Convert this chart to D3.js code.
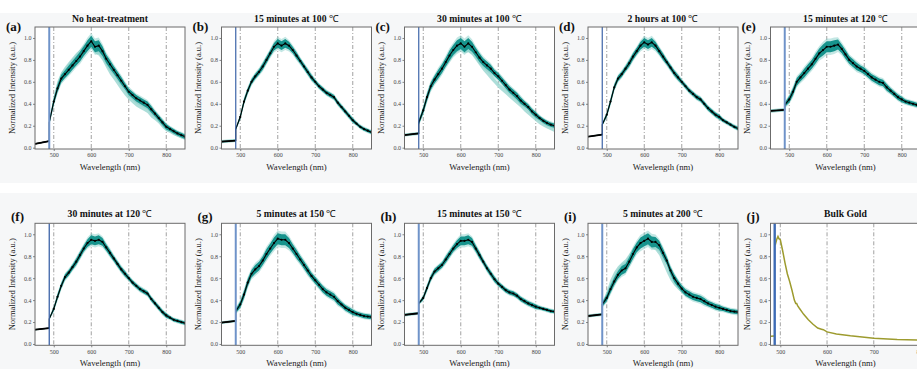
<!DOCTYPE html>
<html><head><meta charset="utf-8">
<script src="https://cdn.jsdelivr.net/npm/d3@7"></script>
<style>
html,body{margin:0;padding:0;background:#fff;}
svg{display:block;}
text{font-family:"Liberation Serif","Times New Roman",serif;}
</style></head><body>
<svg id="chart" width="917" height="369"></svg>
<script>
// ---------- DATA ----------
const wavelengths = [488,500,510,520,530,540,550,560,570,580,590,600,610,620,630,640,650,660,670,680,690,700,710,720,730,740,750,760,770,780,790,800,810,820,830,840,850];
const leftWavelengths = [450,488];
const xTicks = [500,600,700,800];
const yTicks = [0.0,0.2,0.4,0.6,0.8,1.0];
const guideLines = [500,600,700,800];
const laserLine = 488;

const titles = ["No heat-treatment","15 minutes at 100 ℃","30 minutes at 100 ℃","2 hours at 100 ℃","15 minutes at 120 ℃",
                "30 minutes at 120 ℃","5 minutes at 150 ℃","15 minutes at 150 ℃","5 minutes at 200 ℃","Bulk Gold"];
const panelLabels = ["(a)","(b)","(c)","(d)","(e)","(f)","(g)","(h)","(i)","(j)"];

const leftA = [0.035,0.06], leftB = [0.055,0.065], leftC = [0.115,0.13], leftD = [0.10,0.12], leftE = [0.335,0.345];
const leftF = [0.13,0.145], leftG = [0.195,0.21], leftH = [0.265,0.28], leftI = [0.255,0.27];

const meanA = [0.23,0.42,0.54,0.63,0.67,0.71,0.75,0.79,0.83,0.88,0.93,0.97,0.92,0.93,0.88,0.81,0.76,0.71,0.66,0.61,0.56,0.51,0.48,0.45,0.43,0.41,0.39,0.35,0.31,0.27,0.23,0.19,0.17,0.15,0.13,0.115,0.10];
const altA  = [0.23,0.45,0.58,0.66,0.71,0.75,0.79,0.83,0.86,0.90,0.93,0.95,0.90,0.88,0.83,0.76,0.70,0.65,0.60,0.55,0.50,0.46,0.43,0.40,0.38,0.36,0.34,0.30,0.27,0.24,0.20,0.17,0.15,0.13,0.115,0.10,0.09];
const meanB = [0.17,0.28,0.42,0.52,0.60,0.65,0.69,0.74,0.80,0.86,0.92,0.95,0.93,0.95,0.93,0.89,0.84,0.79,0.74,0.69,0.64,0.60,0.56,0.53,0.50,0.48,0.46,0.41,0.37,0.33,0.29,0.25,0.22,0.19,0.17,0.155,0.14];
const meanC = [0.23,0.34,0.46,0.56,0.62,0.67,0.72,0.78,0.84,0.89,0.93,0.95,0.92,0.95,0.92,0.87,0.82,0.78,0.75,0.72,0.68,0.65,0.61,0.57,0.53,0.50,0.47,0.43,0.40,0.37,0.33,0.30,0.27,0.245,0.225,0.21,0.20];
const altC  = [0.23,0.34,0.46,0.56,0.62,0.67,0.72,0.77,0.82,0.87,0.91,0.93,0.90,0.91,0.88,0.83,0.78,0.73,0.69,0.65,0.61,0.57,0.54,0.51,0.48,0.45,0.42,0.39,0.35,0.32,0.29,0.26,0.23,0.21,0.19,0.175,0.16];
const meanD = [0.21,0.30,0.42,0.55,0.63,0.67,0.72,0.77,0.83,0.88,0.93,0.96,0.94,0.96,0.93,0.88,0.83,0.78,0.73,0.68,0.64,0.60,0.56,0.52,0.49,0.46,0.44,0.40,0.36,0.33,0.30,0.28,0.25,0.23,0.21,0.19,0.175];
const meanE = [0.39,0.44,0.51,0.60,0.64,0.68,0.72,0.76,0.81,0.86,0.89,0.92,0.92,0.93,0.94,0.90,0.85,0.80,0.77,0.74,0.72,0.70,0.67,0.64,0.62,0.60,0.59,0.55,0.52,0.49,0.46,0.44,0.42,0.41,0.40,0.39,0.38];
const meanF = [0.23,0.32,0.43,0.53,0.61,0.65,0.70,0.75,0.81,0.87,0.92,0.95,0.94,0.95,0.93,0.88,0.83,0.78,0.73,0.68,0.64,0.60,0.56,0.53,0.50,0.48,0.46,0.41,0.37,0.33,0.29,0.26,0.24,0.22,0.21,0.20,0.19];
const meanG = [0.30,0.36,0.45,0.56,0.64,0.68,0.71,0.76,0.82,0.87,0.92,0.96,0.95,0.95,0.92,0.87,0.82,0.77,0.72,0.67,0.62,0.58,0.54,0.50,0.47,0.45,0.43,0.39,0.36,0.33,0.31,0.29,0.275,0.265,0.255,0.25,0.245];
const meanH = [0.37,0.42,0.51,0.60,0.66,0.69,0.72,0.77,0.82,0.87,0.91,0.94,0.94,0.95,0.93,0.87,0.81,0.75,0.69,0.64,0.59,0.55,0.52,0.49,0.47,0.46,0.44,0.41,0.39,0.37,0.355,0.34,0.33,0.32,0.31,0.30,0.295];
const meanI = [0.36,0.42,0.50,0.57,0.63,0.67,0.69,0.75,0.82,0.88,0.92,0.94,0.96,0.93,0.93,0.90,0.83,0.76,0.67,0.60,0.55,0.505,0.47,0.45,0.43,0.42,0.41,0.39,0.37,0.355,0.34,0.33,0.32,0.31,0.30,0.295,0.29];
const altI  = [0.36,0.46,0.56,0.63,0.68,0.71,0.74,0.79,0.84,0.88,0.91,0.93,0.94,0.91,0.89,0.84,0.76,0.68,0.61,0.56,0.52,0.49,0.46,0.44,0.43,0.42,0.41,0.39,0.37,0.355,0.34,0.33,0.32,0.31,0.30,0.295,0.29];

const spreadWide   = [0.02,0.03,0.035,0.035,0.035,0.04,0.04,0.04,0.045,0.045,0.05,0.05,0.05,0.05,0.045,0.04,0.04,0.035,0.035,0.035,0.03,0.03,0.03,0.03,0.03,0.03,0.03,0.03,0.025,0.025,0.025,0.025,0.02,0.02,0.02,0.02,0.02];
const spreadNarrow = [0.01,0.02,0.025,0.025,0.025,0.025,0.025,0.03,0.03,0.03,0.035,0.04,0.04,0.04,0.035,0.03,0.03,0.025,0.025,0.025,0.025,0.02,0.02,0.02,0.02,0.02,0.02,0.02,0.02,0.02,0.02,0.02,0.015,0.015,0.015,0.015,0.015];
const leftSpread = [0.006,0.014,0.014,0.006,0.016,0.006,0.012,0.014,0.014];

// Bulk gold (j)
const bulkLeftWavelengths = [480,487];
const bulkLeftValues = [0.07,0.072];
const bulkWavelengths = [489,492,495,497,500,505,510,515,520,525,530,533,535,537,540,550,560,570,580,588,592,600,620,650,700,750,800];
const bulkValues = [0.90,0.95,0.98,0.96,0.95,0.85,0.74,0.64,0.57,0.49,0.40,0.37,0.37,0.35,0.33,0.27,0.22,0.18,0.145,0.135,0.13,0.11,0.092,0.075,0.053,0.04,0.035];

// ---------- LAYOUT / STYLE ----------
const colX = [35,221.5,404.5,588,770.5];
const rowY = [27,223.3];
const PW = 150, PH = 122;
const teal = "#17948d", tealLight = "#7ccac3", tealAlt = "#9fd8d2";
const laserStyle = [
  {c:"#6f93c9",w:2},{c:"#3d64a8",w:1.2},{c:"#3d64a8",w:1.2},{c:"#3d64a8",w:1.2},{c:"#6f93c9",w:2},
  {c:"#3d64a8",w:1.3},{c:"#6f93c9",w:2},{c:"#6f93c9",w:2},{c:"#6f93c9",w:2},{c:"#3d6bb5",w:2.4}];

const means = [meanA,meanB,meanC,meanD,meanE,meanF,meanG,meanH,meanI];
const lefts = [leftA,leftB,leftC,leftD,leftE,leftF,leftG,leftH,leftI];
const alts = [altA,null,altC,null,null,null,null,null,altI];
const spreads = [spreadWide,spreadNarrow,spreadWide,spreadNarrow,spreadWide,spreadNarrow,spreadWide,spreadNarrow,spreadWide];

const svg = d3.select("#chart");
// light figure backgrounds
svg.append("rect").attr("x",0).attr("y",13).attr("width",917).attr("height",170).attr("fill","#f6f7f8");
svg.append("rect").attr("x",0).attr("y",193).attr("width",917).attr("height",176).attr("fill","#f6f7f8");

const defs = svg.append("defs");

for (let p=0;p<10;p++){
  const col = p%5, row = Math.floor(p/5);
  const x0 = colX[col], y0 = rowY[row];
  const isBulk = p===9;
  const x = d3.scaleLinear().domain(isBulk?[479,800]:[450,850]).range([0,PW]);
  const y = d3.scaleLinear().domain([-0.012,1.1]).range([PH,0]);
  const g = svg.append("g").attr("transform",`translate(${x0},${y0})`);
  const cid = "clip"+p;
  defs.append("clipPath").attr("id",cid).append("rect").attr("width",PW).attr("height",PH);

  g.append("rect").attr("width",PW).attr("height",PH).attr("fill","#ffffff");
  const plot = g.append("g").attr("clip-path",`url(#${cid})`);

  // guide lines
  plot.selectAll(".guide").data(guideLines).join("line")
    .attr("x1",d=>x(d)).attr("x2",d=>x(d)).attr("y1",0).attr("y2",PH)
    .attr("stroke","#8a8a8a").attr("stroke-width",0.8).attr("stroke-dasharray","4,2,1,2");

  if (!isBulk){
    const mean = means[p], left = lefts[p], sp = spreads[p], alt = alts[p];
    const pts = wavelengths.map((w,i)=>({w, v:mean[i], s:sp[i]}));
    const lpts = leftWavelengths.map((w,i)=>({w, v:left[i], s:leftSpread[p]}));
    const area = (k,arr)=>d3.area().x(d=>x(d.w)).y0(d=>y(d.v-d.s*k)).y1(d=>y(d.v+d.s*k))(arr);
    if (alt){
      const apts = wavelengths.map((w,i)=>({w, v:alt[i], s:sp[i]*0.8}));
      plot.append("path").attr("d",area(1,apts)).attr("fill",tealAlt).attr("opacity",0.85);
    }
    plot.append("path").attr("d",area(1.5,pts)).attr("fill",tealLight).attr("opacity",0.45);
    plot.append("path").attr("d",area(1,pts)).attr("fill",teal);
    plot.append("path").attr("d",area(1,lpts)).attr("fill",tealLight).attr("opacity",0.8);
    const line = d3.line().x(d=>x(d.w)).y(d=>y(d.v));
    plot.append("path").attr("d",line(lpts.concat(pts))).attr("fill","none").attr("stroke","#000").attr("stroke-width",1.1);
    plot.append("path").attr("d",line(lpts)).attr("fill","none").attr("stroke","#000").attr("stroke-width",1.8);
    plot.selectAll(".dot").data(pts.slice(1)).join("circle")
      .attr("cx",d=>x(d.w)).attr("cy",d=>y(d.v)).attr("r",1.1).attr("fill","#000");
  } else {
    const line = d3.line().x(d=>x(d[0])).y(d=>y(d[1]));
    const lp = bulkLeftWavelengths.map((w,i)=>[w,bulkLeftValues[i]]);
    const mp = bulkWavelengths.map((w,i)=>[w,bulkValues[i]]);
    plot.append("path").attr("d",line(lp)).attr("fill","none").attr("stroke","#9d9b2e").attr("stroke-width",1.5);
    plot.append("path").attr("d",line(mp)).attr("fill","none").attr("stroke","#9d9b2e").attr("stroke-width",1.5);
  }

  // laser line
  plot.append("line").attr("x1",x(laserLine)).attr("x2",x(laserLine)).attr("y1",0).attr("y2",PH)
    .attr("stroke",laserStyle[p].c).attr("stroke-width",laserStyle[p].w);

  // axes
  const xa = g.append("g").attr("transform",`translate(0,${PH})`)
    .call(d3.axisBottom(x).tickValues(xTicks).tickFormat(d3.format("d")).tickSize(2).tickPadding(2));
  const ya = g.append("g").call(d3.axisLeft(y).tickValues(yTicks).tickFormat(d3.format(".1f")).tickSize(2).tickPadding(1.5));
  [xa,ya].forEach(a=>{
    a.select(".domain").remove();
    a.selectAll(".tick line").attr("stroke","#555").attr("stroke-width",0.7);
    a.selectAll(".tick text").attr("fill","#444").style("font-size","6px").style("font-family","Liberation Serif, serif");
  });
  g.append("rect").attr("width",PW).attr("height",PH).attr("fill","none").attr("stroke","#6b6b6b").attr("stroke-width",1);

  // labels
  g.append("text").attr("x",PW/2).attr("y",PH+21).attr("text-anchor","middle")
    .style("font-size","8.7px").attr("fill","#222").text("Wavelength (nm)");
  g.append("text").attr("transform",`translate(-20.5,${PH/2}) rotate(-90)`).attr("text-anchor","middle")
    .style("font-size","8.5px").attr("fill","#222").text("Normalized Intensity (a.u.)");
  const t = g.append("text").attr("x",PW/2).attr("y",row===0?-5.5:-6.3).attr("text-anchor","middle")
    .style("font-size","9.7px").style("font-weight","bold").attr("fill","#111");
  const title = titles[p];
  if (title.endsWith("℃")){
    t.append("tspan").text(title.slice(0,-1));
    t.append("tspan").style("font-weight","normal").text("℃");
  } else t.text(title);
  g.append("text").attr("x",row===0?-29:-24).attr("y",row===0?4:-2.5)
    .style("font-size","13px").style("font-weight","bold").attr("fill","#111").text(panelLabels[p]);
}
</script>
</body></html>
